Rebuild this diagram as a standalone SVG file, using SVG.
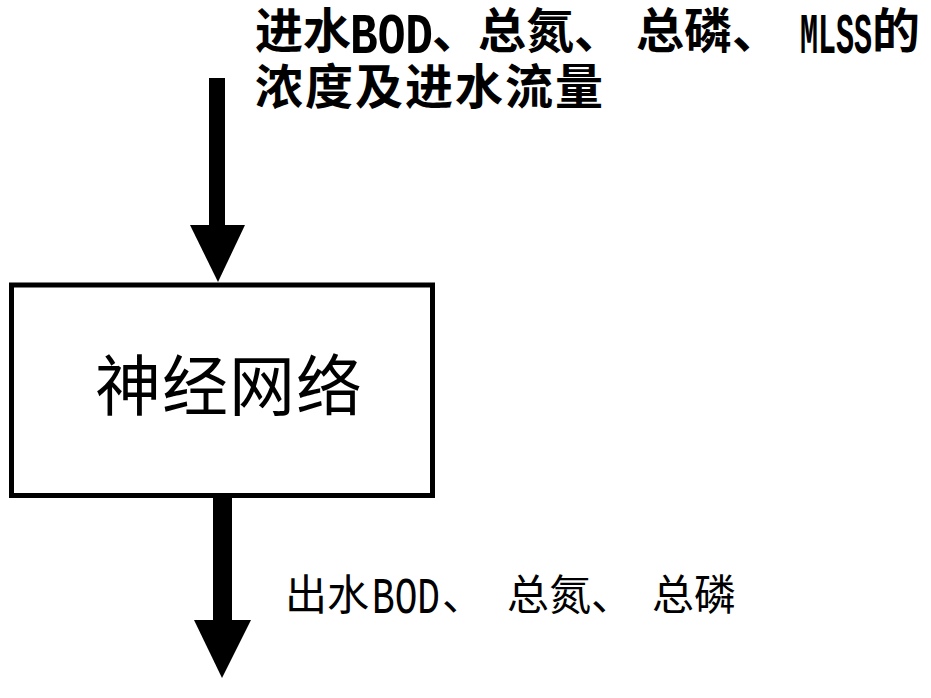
<svg xmlns="http://www.w3.org/2000/svg" width="931" height="698" viewBox="0 0 931 698">
<style>
  .lbl { font-family: "Noto Sans CJK SC", "Noto Sans", sans-serif; fill: #000; }
  .lat { font-family: "Liberation Mono", "DejaVu Sans Mono", monospace; }
  .top { font-size: 48px; font-weight: 700; }
  .top .lat { font-size: 57px; }
  .bot { font-size: 42px; font-weight: 400; }
  .bot .lat { font-size: 52px; }
  .node-text { font-size: 66px; font-weight: 400; }
  .box { fill: #fff; stroke: #000; stroke-width: 5; }
  .arrow { fill: #000; stroke: none; }
</style>
<rect width="931" height="698" fill="#fff"/>
<g id="connectors">
  <g id="input-arrow">
    <rect class="arrow" x="209" y="78" width="16" height="150"/>
    <polygon class="arrow" points="190,225 245,225 218,282"/>
  </g>
  <g id="output-arrow">
    <rect class="arrow" x="213" y="495" width="19" height="128"/>
    <polygon class="arrow" points="194,620 251,620 222,678"/>
  </g>
</g>
<g id="input-label">
  <text class="lbl top" y="52">
    <tspan x="255" y="48">进水</tspan><tspan class="lat" x="350" y="53" textLength="83" lengthAdjust="spacingAndGlyphs">BOD</tspan><tspan x="432" y="48">、</tspan><tspan x="478" y="48">总氮、</tspan><tspan x="636" y="48">总磷、</tspan><tspan class="lat" x="800" y="53" textLength="72" lengthAdjust="spacingAndGlyphs">MLSS</tspan><tspan x="872" y="48">的</tspan>
  </text>
  <text class="lbl top" x="255" y="104" letter-spacing="2">浓度及进水流量</text>
</g>
<g id="node-neural-network">
  <rect class="box" x="11.5" y="285" width="421" height="210.5"/>
  <text class="lbl node-text" x="95" y="410" letter-spacing="1">神经网络</text>
</g>
<g id="output-label">
  <text class="lbl bot" y="610">
    <tspan x="285" y="610">出水</tspan><tspan class="lat" x="372" y="613" textLength="68" lengthAdjust="spacingAndGlyphs">BOD</tspan><tspan x="442" y="610">、</tspan><tspan x="507" y="610">总氮、</tspan><tspan x="652" y="610">总磷</tspan>
  </text>
</g>
</svg>
